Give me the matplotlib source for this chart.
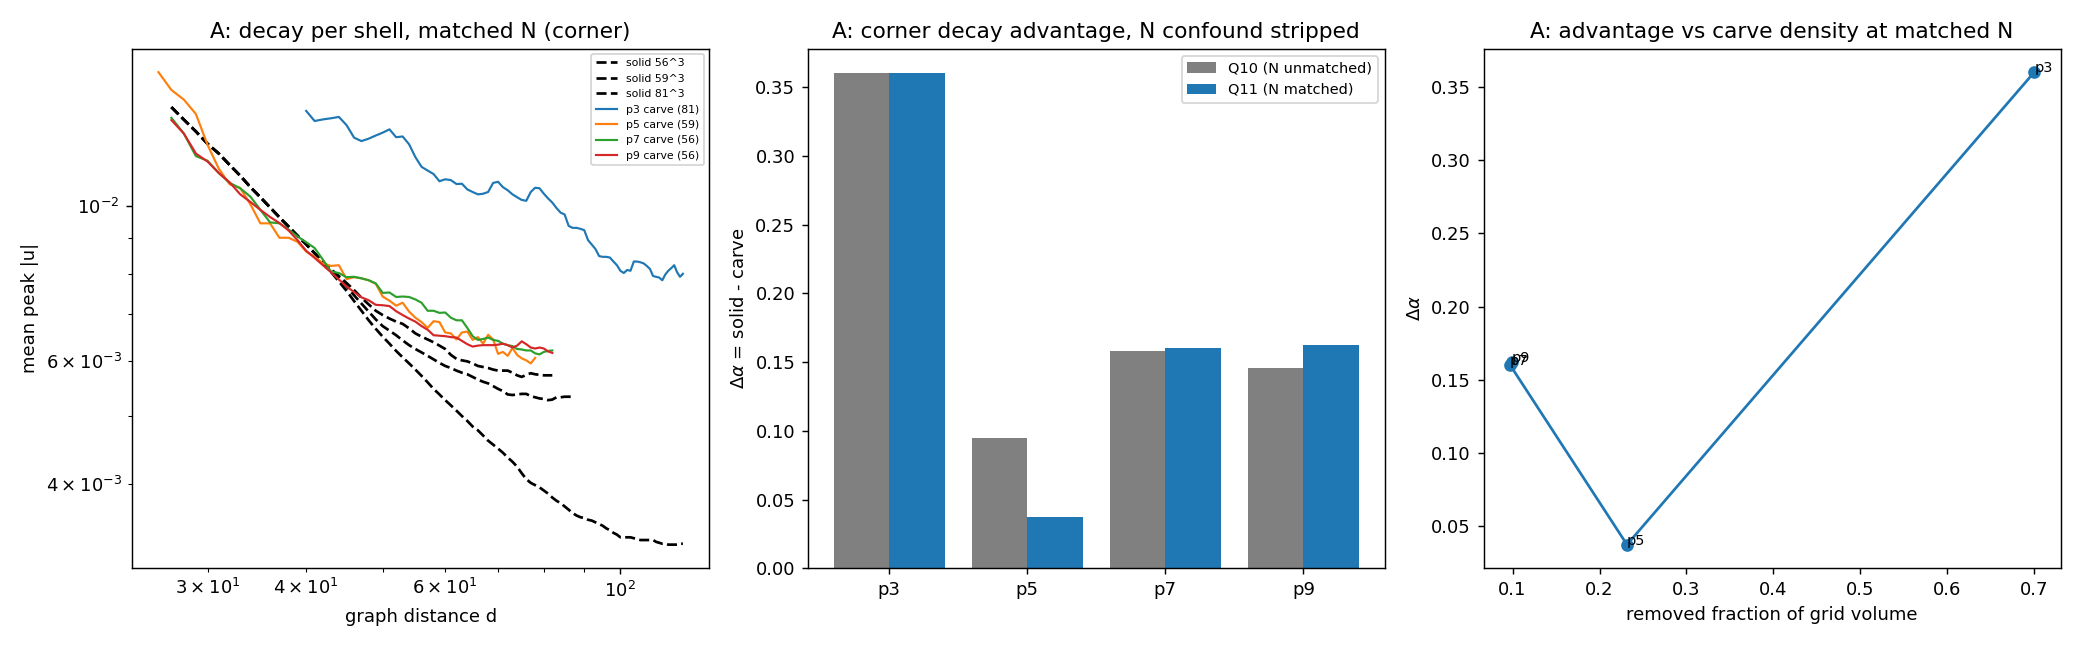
import numpy as np
import matplotlib
matplotlib.use("Agg")
import matplotlib.pyplot as plt

# ── data ──────────────────────────────────────────────────────────────────────
d_solid56 = np.arange(27, 83)
solid56 = [0.01387, 0.01331, 0.01280, 0.01229, 0.01190, 0.01146, 0.01106, 0.01065,
           0.01030, 0.00996, 0.00964, 0.00935, 0.00907, 0.00882, 0.00856, 0.00831,
           0.00812, 0.00794, 0.00776, 0.00758, 0.00739, 0.00723, 0.00708, 0.00698,
           0.00690, 0.00683, 0.00678, 0.00668, 0.00657, 0.00650, 0.00644, 0.00638,
           0.00631, 0.00624, 0.00612, 0.00604, 0.00601, 0.00599, 0.00595, 0.00590,
           0.00588, 0.00586, 0.00583, 0.00581, 0.00581, 0.00581, 0.00577, 0.00572,
           0.00569, 0.00573, 0.00576, 0.00574, 0.00573, 0.00572, 0.00572, 0.00572]

d_solid59 = np.arange(27, 88)
solid59 = [0.01387, 0.01331, 0.01280, 0.01229, 0.01190, 0.01146, 0.01106, 0.01065,
           0.01030, 0.00996, 0.00964, 0.00935, 0.00907, 0.00882, 0.00856, 0.00831,
           0.00810, 0.00789, 0.00767, 0.00745, 0.00725, 0.00706, 0.00688, 0.00673,
           0.00663, 0.00653, 0.00642, 0.00632, 0.00624, 0.00617, 0.00610, 0.00603,
           0.00596, 0.00590, 0.00586, 0.00581, 0.00577, 0.00574, 0.00569, 0.00564,
           0.00560, 0.00557, 0.00552, 0.00547, 0.00543, 0.00537, 0.00536, 0.00537,
           0.00538, 0.00538, 0.00534, 0.00532, 0.00530, 0.00529, 0.00527, 0.00528,
           0.00532, 0.00532, 0.00533, 0.00533, 0.00533]

d_solid81 = np.arange(27, 121)
solid81 = [0.01387, 0.01331, 0.01280, 0.01229, 0.01190, 0.01146, 0.01106, 0.01065,
           0.01030, 0.00996, 0.00964, 0.00935, 0.00907, 0.00882, 0.00856, 0.00831,
           0.00805, 0.00780, 0.00756, 0.00731, 0.00708, 0.00686, 0.00667, 0.00650,
           0.00635, 0.00620, 0.00607, 0.00595, 0.00583, 0.00571, 0.00559, 0.00547,
           0.00537, 0.00527, 0.00518, 0.00509, 0.00500, 0.00492, 0.00483, 0.00477,
           0.00469, 0.00461, 0.00455, 0.00449, 0.00443, 0.00436, 0.00430, 0.00423,
           0.00414, 0.00406, 0.00401, 0.00398, 0.00395, 0.00391, 0.00387, 0.00382,
           0.00378, 0.00375, 0.00371, 0.00367, 0.00363, 0.00360, 0.00358, 0.00357,
           0.00355, 0.00354, 0.00352, 0.00350, 0.00348, 0.00345, 0.00343, 0.00340,
           0.00338, 0.00335, 0.00335, 0.00335, 0.00335, 0.00334, 0.00333, 0.00332,
           0.00332, 0.00332, 0.00332, 0.00332, 0.00330, 0.00329, 0.00328, 0.00328,
           0.00327, 0.00327, 0.00327, 0.00327, 0.00328, 0.00328]

d_p3 = np.arange(40, 121)
p3_carve = [0.01370, 0.01325, 0.01332, 0.01337, 0.01343, 0.01307, 0.01254, 0.01240,
            0.01250, 0.01263, 0.01275, 0.01289, 0.01256, 0.01259, 0.01227, 0.01176,
            0.01139, 0.01125, 0.01112, 0.01086, 0.01093, 0.01090, 0.01076, 0.01077,
            0.01057, 0.01048, 0.01040, 0.01042, 0.01048, 0.01080, 0.01084, 0.01065,
            0.01054, 0.01040, 0.01030, 0.01021, 0.01018, 0.01048, 0.01063, 0.01061,
            0.01042, 0.01026, 0.01012, 0.00994, 0.00979, 0.00973, 0.00937, 0.00931,
            0.00931, 0.00928, 0.00924, 0.00894, 0.00881, 0.00868, 0.00848, 0.00846,
            0.00846, 0.00844, 0.00833, 0.00823, 0.00808, 0.00802, 0.00810, 0.00808,
            0.00833, 0.00833, 0.00831, 0.00828, 0.00821, 0.00813, 0.00794, 0.00792,
            0.00790, 0.00783, 0.00798, 0.00808, 0.00815, 0.00823, 0.00804, 0.00792,
            0.00800]

d_p5 = np.arange(26, 79)
p5_carve = [0.01557, 0.01468, 0.01422, 0.01356, 0.01225, 0.01132, 0.01075, 0.01062,
            0.01006, 0.00945, 0.00945, 0.00901, 0.00901, 0.00889, 0.00861, 0.00846,
            0.00828, 0.00821, 0.00823, 0.00786, 0.00791, 0.00788, 0.00783, 0.00774,
            0.00742, 0.00732, 0.00720, 0.00727, 0.00706, 0.00692, 0.00682, 0.00669,
            0.00684, 0.00682, 0.00659, 0.00657, 0.00644, 0.00659, 0.00661, 0.00643,
            0.00649, 0.00635, 0.00654, 0.00644, 0.00614, 0.00618, 0.00610, 0.00626,
            0.00612, 0.00605, 0.00601, 0.00595, 0.00606]

d_p7 = np.arange(27, 83)
p7_carve = [0.01339, 0.01271, 0.01180, 0.01162, 0.01116, 0.01080, 0.01061, 0.01032,
            0.00988, 0.00948, 0.00945, 0.00926, 0.00905, 0.00888, 0.00871, 0.00838,
            0.00806, 0.00802, 0.00791, 0.00792, 0.00788, 0.00783, 0.00775, 0.00751,
            0.00752, 0.00741, 0.00742, 0.00741, 0.00735, 0.00727, 0.00708, 0.00708,
            0.00703, 0.00704, 0.00692, 0.00686, 0.00686, 0.00669, 0.00651, 0.00643,
            0.00645, 0.00648, 0.00643, 0.00641, 0.00635, 0.00632, 0.00630, 0.00624,
            0.00623, 0.00621, 0.00621, 0.00615, 0.00613, 0.00618, 0.00620, 0.00621]

d_p9 = np.arange(27, 83)
p9_carve = [0.01329, 0.01271, 0.01190, 0.01159, 0.01116, 0.01082, 0.01040, 0.01014,
            0.00988, 0.00965, 0.00946, 0.00923, 0.00894, 0.00863, 0.00843, 0.00823,
            0.00804, 0.00785, 0.00767, 0.00753, 0.00740, 0.00733, 0.00722, 0.00721,
            0.00719, 0.00707, 0.00698, 0.00690, 0.00683, 0.00673, 0.00665, 0.00653,
            0.00652, 0.00651, 0.00649, 0.00648, 0.00641, 0.00634, 0.00629, 0.00631,
            0.00632, 0.00632, 0.00632, 0.00633, 0.00635, 0.00632, 0.00627, 0.00631,
            0.00640, 0.00634, 0.00627, 0.00625, 0.00627, 0.00625, 0.00619, 0.00616]

carves  = ["p3", "p5", "p7", "p9"]
q10_da  = [0.360, 0.0944, 0.1577, 0.1453]
q11_da  = [0.360, 0.0376, 0.1604, 0.1621]
removed = [0.700, 0.2316, 0.0969, 0.0995]

# ── figure ────────────────────────────────────────────────────────────────────
fig, axes = plt.subplots(1, 3, figsize=(16, 5))

# 1. decay curves
ax = axes[0]
ax.plot(d_solid56, solid56, "k--", label="solid 56^3")
ax.plot(d_solid59, solid59, "k--", label="solid 59^3")
ax.plot(d_solid81, solid81, "k--", label="solid 81^3")
ax.plot(d_p3, p3_carve, lw=1.2, label="p3 carve (81)")
ax.plot(d_p5, p5_carve, lw=1.2, label="p5 carve (59)")
ax.plot(d_p7, p7_carve, lw=1.2, label="p7 carve (56)")
ax.plot(d_p9, p9_carve, lw=1.2, label="p9 carve (56)")
ax.set_xscale("log")
ax.set_yscale("log")
ax.set_xlabel("graph distance d")
ax.set_ylabel("mean peak |u|")
ax.set_title("A: decay per shell, matched N (corner)")
ax.legend(fontsize=6)

# 2. bars
ax = axes[1]
x = np.arange(len(carves))
ax.bar(x - 0.2, q10_da, width=0.4, color="gray", label="Q10 (N unmatched)")
ax.bar(x + 0.2, q11_da, width=0.4, color="C0", label="Q11 (N matched)")
ax.set_xticks(x)
ax.set_xticklabels(carves)
ax.set_ylabel(r"$\Delta\alpha$ = solid - carve")
ax.set_title("A: corner decay advantage, N confound stripped")
ax.legend(fontsize=8)

# 3. advantage vs removed fraction
ax = axes[2]
ax.plot(removed, q11_da, "o-")
for name, fx, fy in zip(carves, removed, q11_da):
    ax.text(fx, fy, name, fontsize=8)
ax.set_xlabel("removed fraction of grid volume")
ax.set_ylabel(r"$\Delta\alpha$")
ax.set_title("A: advantage vs carve density at matched N")

plt.tight_layout()
plt.savefig("out.png", dpi=130)
